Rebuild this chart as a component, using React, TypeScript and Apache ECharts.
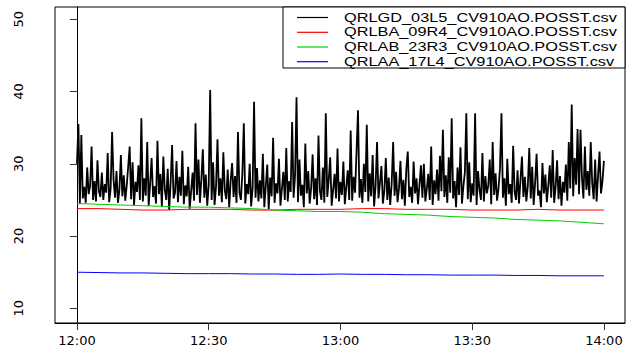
import React, { useEffect, useRef } from "react";
import * as echarts from "echarts";

// Sampling: black series every 20 s from 12:00; others every 5 min.
const seriesNames = [
  "QRLGD_03L5_CV910AO.POSST.csv",
  "QRLBA_09R4_CV910AO.POSST.csv",
  "QRLAB_23R3_CV910AO.POSST.csv",
  "QRLAA_17L4_CV910AO.POSST.csv",
];
const seriesColors = ["#000000", "#ff0000", "#00cd00", "#0000ff"];

const xTickMinutes = [0, 30, 60, 90, 120];
const xTickLabels = ["12:00", "12:30", "13:00", "13:30", "14:00"];
const yTickValues = [10, 20, 30, 40, 50];

const blackValues = [
  30.0, 35.5, 24.5, 34.0, 25.2, 26.8, 24.6, 29.5, 25.8, 27.0, 32.4, 25.0, 27.6, 24.8, 30.5, 26.2, 25.4, 28.8,
  25.0, 27.2, 26.0, 31.5, 24.7, 26.5, 34.4, 27.8, 25.3, 29.0, 24.6, 26.4, 31.2, 25.5, 28.4, 24.9, 27.0, 29.6,
  32.4, 25.1, 30.2, 24.3, 27.5, 26.1, 29.8, 25.0, 36.3, 24.8, 28.0, 25.6, 33.0, 24.2, 27.3, 30.8, 25.4, 26.9,
  24.5, 33.2, 25.8, 28.6, 24.1, 31.0, 26.4, 25.0, 29.3, 23.6, 27.4, 32.6, 25.2, 26.0, 30.4, 24.7, 28.2, 25.6,
  31.8, 24.4, 27.0, 25.5, 29.6, 23.8, 26.2, 28.8, 24.9, 35.6, 25.7, 30.6, 24.6, 27.9, 32.0, 25.3, 28.5, 24.2,
  27.0, 40.2, 25.0, 30.2, 24.3, 26.8, 33.4, 25.6, 28.0, 24.7, 31.6, 26.3, 25.1, 29.2, 24.0, 27.6, 30.1, 25.4,
  28.3, 24.6, 34.4, 26.0, 25.0, 28.7, 35.6, 24.5, 27.2, 25.8, 30.0, 24.1, 26.6, 38.6, 25.3, 29.4, 24.8, 27.7,
  25.2, 31.4, 24.0, 26.9, 29.9, 23.7, 28.1, 25.5, 33.6, 24.6, 27.3, 25.9, 30.7, 24.2, 26.5, 28.9, 25.0, 32.2,
  24.8, 27.6, 26.1, 35.8, 25.3, 28.4, 39.2, 24.7, 30.6, 25.6, 27.1, 24.0, 32.8, 25.9, 29.0, 24.5, 26.7, 31.3,
  25.1, 28.0, 24.3, 33.9, 26.2, 25.0, 29.5, 24.6, 37.0, 25.4, 27.8, 30.9, 24.2, 26.4, 28.6, 25.2, 32.1, 24.8,
  27.5, 25.7, 30.3, 24.4, 26.8, 29.1, 25.0, 34.6, 24.9, 28.2, 26.0, 31.7, 37.4, 25.3, 27.9, 24.6, 30.0, 26.1,
  35.4, 24.8, 28.7, 25.5, 31.2, 24.1, 26.9, 33.0, 25.2, 27.4, 29.7, 24.5, 26.3, 30.8, 25.0, 28.1, 24.3, 27.2,
  33.0, 25.6, 28.9, 24.7, 26.6, 30.4, 25.1, 27.8, 24.2, 29.3, 31.7, 25.4, 26.8, 24.6, 30.3, 25.9, 28.0, 24.4,
  27.1, 29.8, 25.3, 30.0, 24.8, 26.5, 28.6, 25.0, 32.4, 24.3, 27.7, 25.8, 29.2, 24.9, 31.1, 26.2, 34.7, 25.4,
  28.4, 24.6, 30.9, 26.0, 36.3, 25.2, 27.6, 24.0, 29.5, 25.7, 32.3, 24.5, 26.9, 28.8, 37.0, 25.1, 30.2, 24.7,
  27.3, 25.6, 37.0, 24.3, 29.0, 26.4, 25.0, 31.5, 24.8, 28.3, 25.9, 27.0, 30.6, 24.4, 33.0, 25.7, 28.7, 24.9,
  26.6, 29.4, 37.0, 25.3, 28.0, 24.2, 30.7, 25.8, 27.2, 24.6, 32.5, 26.1, 25.0, 29.1, 24.5, 27.8, 31.0, 25.4,
  28.2, 24.8, 26.9, 32.2, 25.2, 29.6, 24.3, 27.4, 31.4, 25.6, 26.3, 24.0, 30.1, 25.9, 28.5, 24.7, 27.0, 29.8,
  25.3, 31.9, 24.6, 26.8, 30.5, 25.1, 28.3, 24.2, 27.5, 26.0, 29.9, 24.9, 33.0, 26.6, 38.2, 25.5, 30.8, 27.1,
  34.8, 25.8, 34.7, 28.0, 25.2, 32.4, 26.4, 29.0, 25.6, 33.0, 27.3, 25.1, 30.6, 24.8, 28.4, 31.7, 25.9, 27.6,
  30.4,
];

const redValues = [
  23.8, 23.8, 23.7, 23.6, 23.6, 23.7, 23.7, 23.7, 23.6, 23.6, 23.7, 23.7, 23.7,
  23.8, 23.8, 23.7, 23.7, 23.7, 23.6, 23.6, 23.6, 23.7, 23.6, 23.6, 23.6,
];
const greenValues = [
  24.5, 24.4, 24.3, 24.2, 24.1, 24.0, 24.0, 23.9, 23.8, 23.6, 23.5, 23.4, 23.4,
  23.3, 23.1, 23.0, 22.9, 22.7, 22.6, 22.5, 22.3, 22.2, 22.1, 21.9, 21.7,
];
const blueValues = [
  15.0, 14.95, 14.9, 14.9, 14.85, 14.8, 14.8, 14.8, 14.75, 14.75, 14.7, 14.7, 14.75,
  14.7, 14.7, 14.65, 14.65, 14.6, 14.6, 14.6, 14.55, 14.55, 14.5, 14.5, 14.5,
];

const blackStepMin = 1 / 3;
const slowStepMin = 5;

export default function App() {
  const ref = useRef<HTMLDivElement>(null);
  useEffect(() => {
    if (!ref.current) return;
    const chart = echarts.init(ref.current, undefined, { renderer: "svg" });
    const toPairs = (vals: number[], step: number) => vals.map((v, i) => [i * step, v]);
    const allValues = [blackValues, redValues, greenValues, blueValues];
    const steps = [blackStepMin, slowStepMin, slowStepMin, slowStepMin];
    const widths = [1.8, 1, 1, 1];

    const legendLeft = 283;
    const legendTop = 7;
    const rowY = [17.5, 32.3, 47, 61.7];
    const legendGraphic: any[] = [
      {
        type: "rect",
        shape: { x: legendLeft, y: legendTop, width: 625 - legendLeft, height: 61 },
        style: { fill: "#ffffff", stroke: "#000000", lineWidth: 1 },
        z: 100,
      },
    ];
    seriesNames.forEach((name, i) => {
      legendGraphic.push({
        type: "line",
        shape: { x1: 297, y1: rowY[i], x2: 328, y2: rowY[i] },
        style: { stroke: seriesColors[i], lineWidth: 1.2 },
        z: 101,
      });
      legendGraphic.push({
        type: "text",
        x: 344,
        y: rowY[i],
        scaleX: 1.36,
        style: {
          text: name,
          fontSize: 12,
          fontFamily: "Liberation Sans",
          verticalAlign: "middle",
          align: "left",
          fill: "#000000",
        },
        z: 101,
      });
    });

    chart.setOption({
      animation: false,
      backgroundColor: "#ffffff",
      grid: {
        left: 55,
        right: 5,
        top: 7,
        bottom: 28,
        show: true,
        borderColor: "#000000",
        borderWidth: 1,
        backgroundColor: "transparent",
      },
      xAxis: {
        type: "value",
        min: -5,
        max: 124.8,
        splitLine: { show: false },
        axisLine: { show: true, lineStyle: { color: "#000000" } },
        axisTick: {
          show: true,
          length: 7,
          inside: false,
          customValues: xTickMinutes,
          lineStyle: { color: "#333333" },
        },
        axisLabel: {
          customValues: xTickMinutes,
          margin: 11,
          fontSize: 13,
          fontFamily: "DejaVu Sans",
          color: "#000000",
          formatter: (v: number) => xTickLabels[xTickMinutes.indexOf(Math.round(v))] ?? "",
        },
      },
      yAxis: {
        type: "value",
        min: 7.97,
        max: 51.7,
        splitLine: { show: false },
        axisLine: { show: true, lineStyle: { color: "#000000" } },
        axisTick: {
          show: true,
          length: 7,
          inside: false,
          customValues: yTickValues,
          lineStyle: { color: "#333333" },
        },
        axisLabel: {
          customValues: yTickValues,
          rotate: 90,
          margin: 30,
          fontSize: 13,
          fontFamily: "DejaVu Sans",
          color: "#000000",
        },
      },
      series: allValues.map((vals, i) => ({
        name: seriesNames[i],
        type: "line",
        data: toPairs(vals, steps[i]),
        showSymbol: false,
        symbol: "none",
        lineStyle: { color: seriesColors[i], width: widths[i] },
        itemStyle: { color: seriesColors[i] },
        z: 2 + i,
      })),
      graphic: legendGraphic,
    });
    return () => chart.dispose();
  }, []);
  return <div ref={ref} style={{ width: 630, height: 351, position: "absolute", left: 0, top: 0 }} />;
}
